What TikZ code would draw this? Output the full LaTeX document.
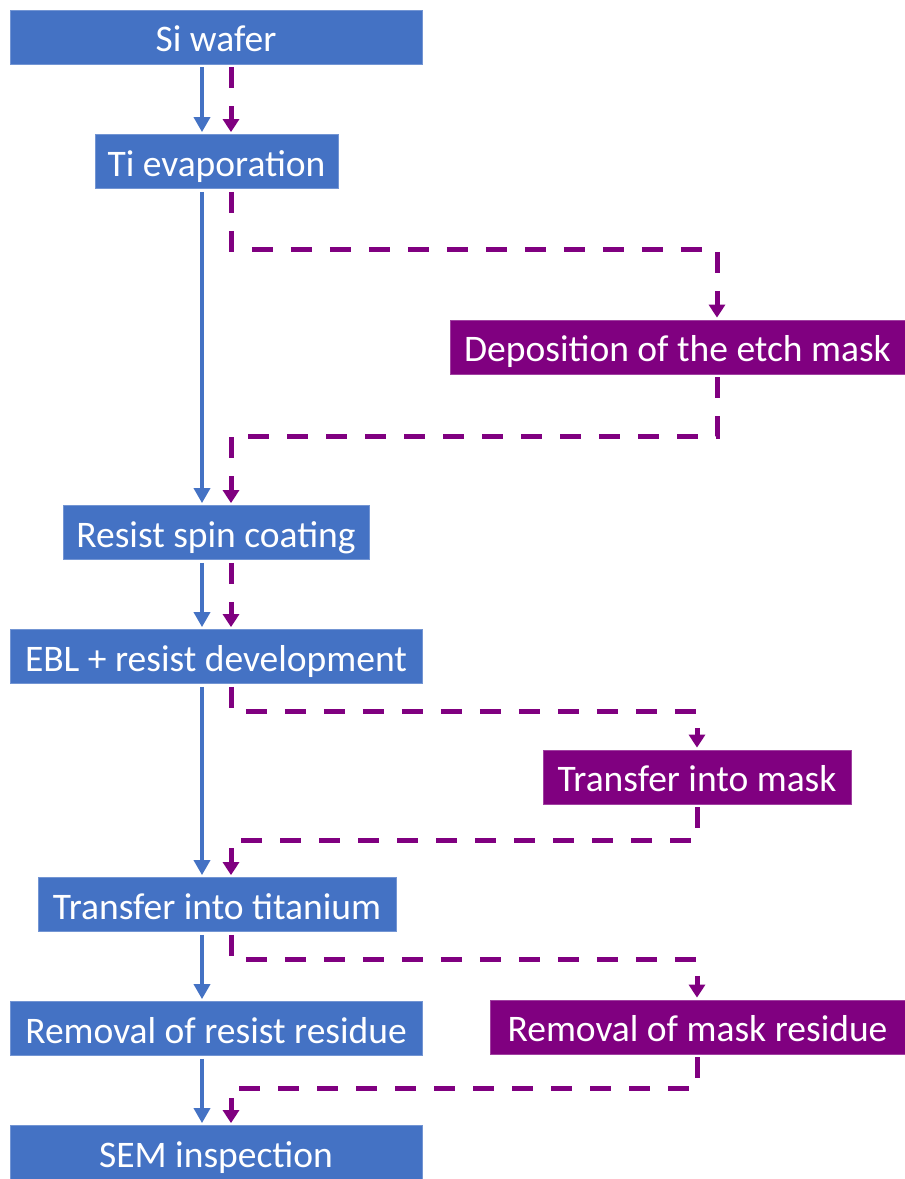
\documentclass[tikz,border=0pt]{standalone}
\usepackage{fontspec}
\setmainfont{Carlito}
\usetikzlibrary{arrows.meta}
\definecolor{boxblue}{HTML}{4472C4}
\definecolor{boxpurple}{HTML}{800080}
\begin{document}
\begin{tikzpicture}[x=1pt,y=-1pt,
  box/.style={fill=boxblue, draw=boxblue!75!white, line width=0.8pt, text=white, inner sep=0pt,
    font=\fontsize{37.5}{42}\selectfont, anchor=center, minimum height=54pt,
    text height=29pt, text depth=0pt},
  pbox/.style={box, fill=boxpurple, draw=boxpurple!75!white},
  bflow/.style={draw=boxblue, line width=3.5pt, -{Triangle[length=15pt,width=16pt]},
    shorten <=3pt, shorten >=2pt},
  pflow/.style={draw=boxpurple, line width=5pt, dash pattern=on 21pt off 18pt,
    -{Triangle[length=13pt,width=16pt]}, shorten <=3pt, shorten >=2pt}]
\useasboundingbox (0,0) rectangle (905,1179);
\fill[white] (0,0) rectangle (905,1179);

\node[box, minimum width=412pt] (si)  at (216,37)    {Si wafer};
\node[box, minimum width=243pt] (ti)  at (216.5,161.5) {Ti evaporation};
\node[pbox, minimum width=455pt] (dep) at (677.5,347) {Deposition of the etch mask};
\node[box, minimum width=306pt] (rsc) at (216,532.5) {Resist spin coating};
\node[box, minimum width=412pt] (ebl) at (216,656.5) {EBL + resist development};
\node[pbox, minimum width=308pt] (tim) at (697,777) {Transfer into mask};
\node[box, minimum width=358pt] (tti) at (217,904.5) {Transfer into titanium};
\node[box, minimum width=412pt] (rrr) at (216,1028.5) {Removal of resist residue};
\node[pbox, minimum width=415pt] (rmr) at (697.5,1027) {Removal of mask residue};
\node[box, minimum width=412pt] (sem) at (216,1152.5) {SEM inspection};

\coordinate (bx) at (202,0);
\coordinate (px) at (231,0);

% blue solid flow
\draw[bflow] (si.south -| bx) -- (ti.north -| bx);
\draw[bflow] (ti.south -| bx) -- (rsc.north -| bx);
\draw[bflow] (rsc.south -| bx) -- (ebl.north -| bx);
\draw[bflow] (ebl.south -| bx) -- (tti.north -| bx);
\draw[bflow] (tti.south -| bx) -- (rrr.north -| bx);
\draw[bflow] (rrr.south -| bx) -- (sem.north -| bx);

% purple dashed flow
\coordinate (k1) at (717,249);
\coordinate (k2) at (717,436);
\coordinate (k3) at (697,711);
\coordinate (k4) at (697,840);
\coordinate (k5) at (697,959);
\coordinate (k6) at (697,1088);
\draw[pflow] (si.south -| px) -- (ti.north -| px);
\draw[pflow] (ti.south -| px) |- (k1) -- (dep.north -| k1);
\draw[pflow] (dep.south -| k2) -- (k2) -| (rsc.north -| px);
\draw[pflow] (rsc.south -| px) -- (ebl.north -| px);
\draw[pflow] (ebl.south -| px) |- (k3) -- (tim.north -| k3);
\draw[pflow] (tim.south -| k4) -- (k4) -| (tti.north -| px);
\draw[pflow] (tti.south -| px) |- (k5) -- (rmr.north -| k5);
\draw[pflow] (rmr.south -| k6) -- (k6) -| (sem.north -| px);
\end{tikzpicture}
\end{document}
